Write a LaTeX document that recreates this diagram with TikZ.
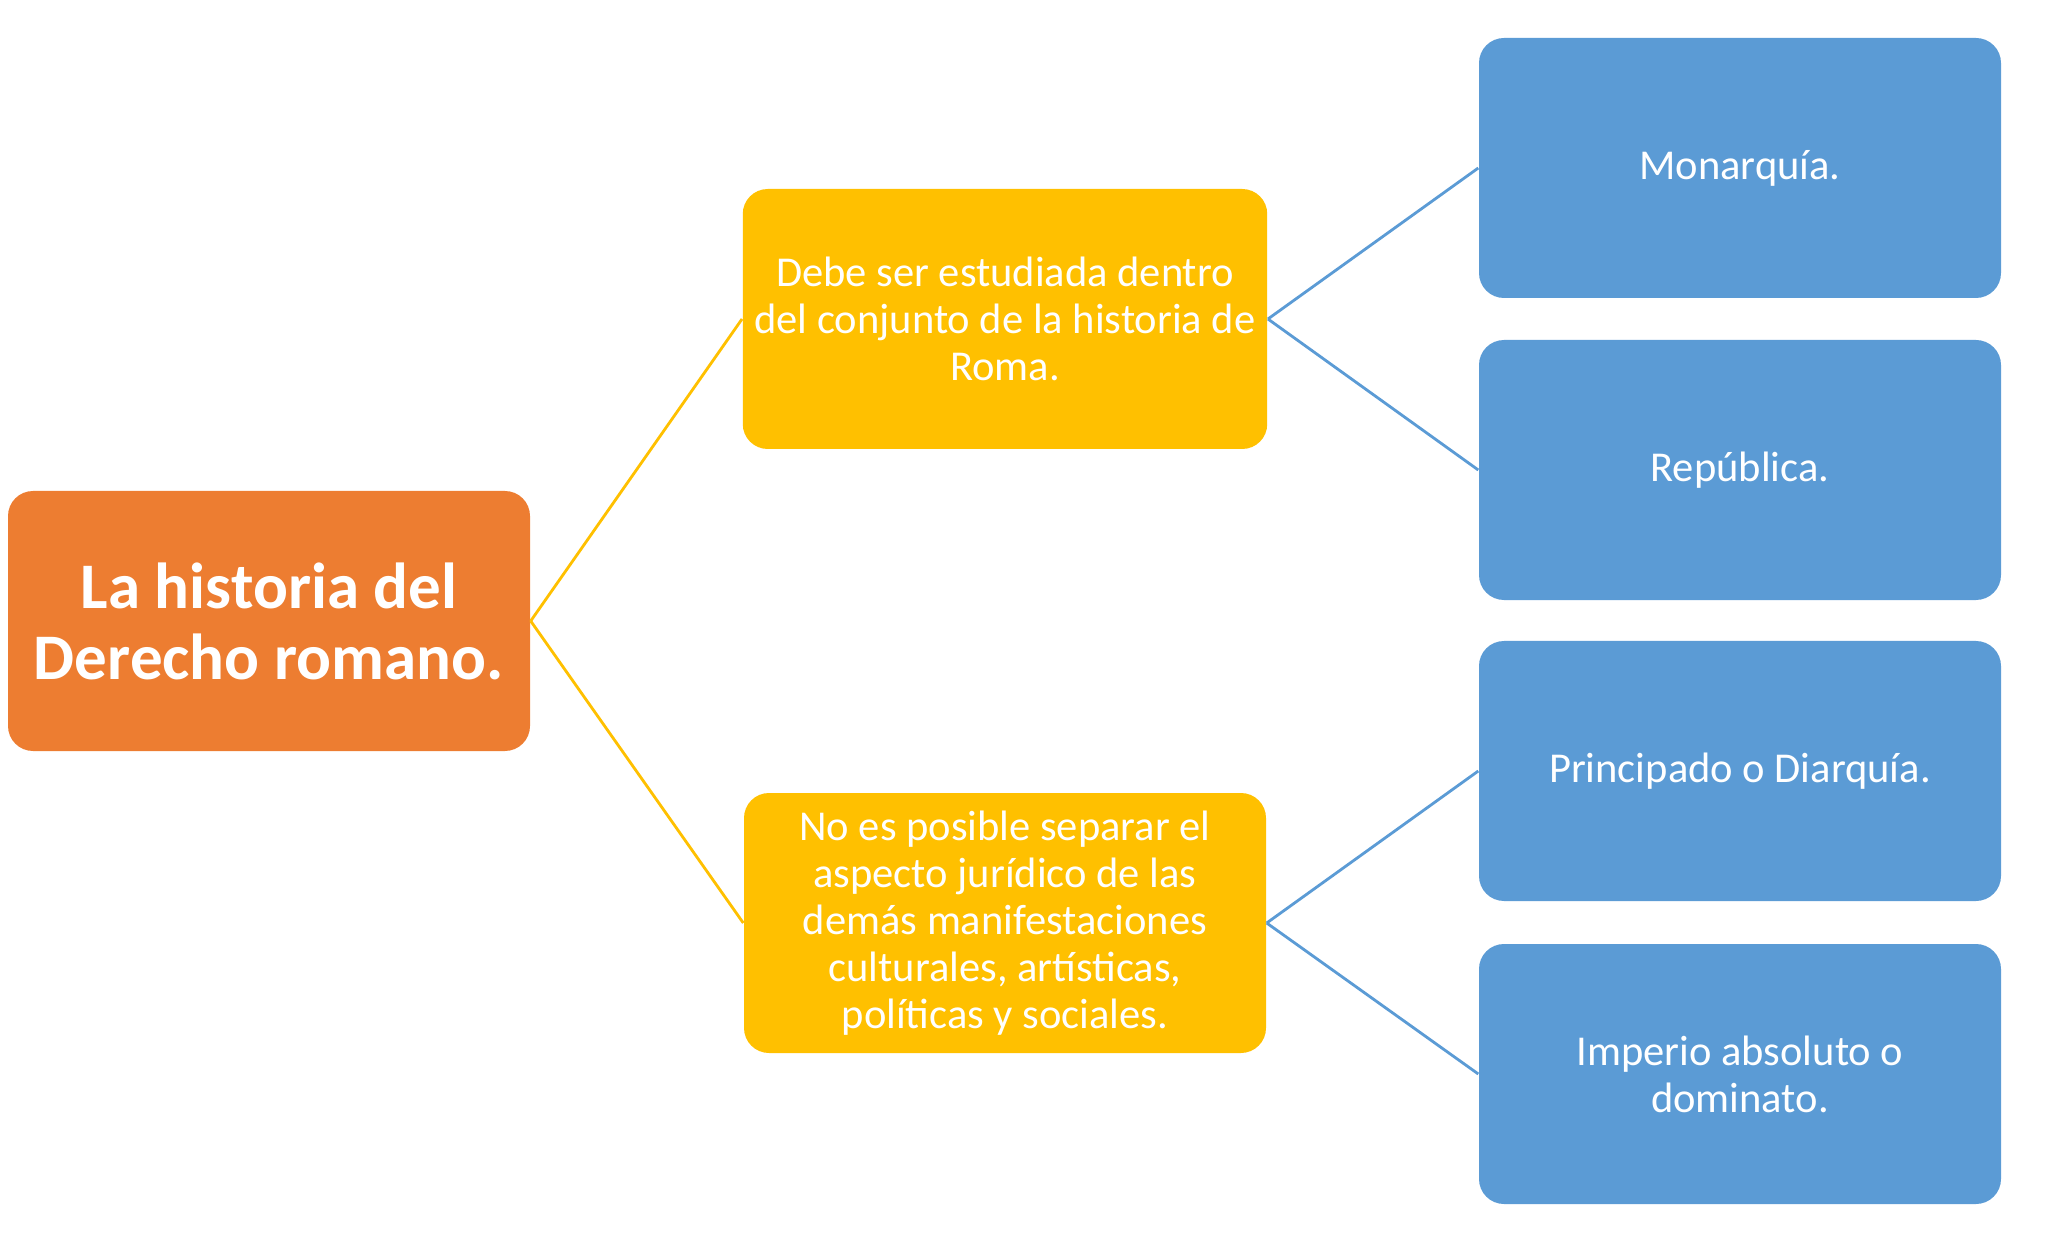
\documentclass[tikz,border=0pt]{standalone}
\usepackage{fontspec}
\setmainfont{Carlito}
\definecolor{rmorange}{RGB}{237,125,49}
\definecolor{rmyellow}{RGB}{255,192,0}
\definecolor{rmblue}{RGB}{91,155,213}
\usetikzlibrary{positioning}

\begin{document}
\begin{tikzpicture}[
  rootbox/.style={fill=rmorange, rounded corners=0.25cm, minimum width=5.22cm, minimum height=2.6cm, align=center, text=white, font=\fontsize{18.5}{20.2}\selectfont\bfseries},
  midbox/.style={fill=rmyellow, rounded corners=0.25cm, minimum width=5.22cm, minimum height=2.6cm, align=center, text=white, font=\fontsize{12.1}{13.4}\selectfont},
  leafbox/.style={fill=rmblue, rounded corners=0.25cm, minimum width=5.22cm, minimum height=2.6cm, align=center, text=white, font=\fontsize{12.1}{13.4}\selectfont}
]
  \useasboundingbox (0,0) rectangle (20.48,12.43);

  \node[rootbox] (hist) at (2.69,6.22) {La historia del\\Derecho romano.};

  \node[midbox] (roma) at (10.05,9.24) {Debe ser estudiada dentro\\del conjunto de la historia de\\Roma.};
  \node[midbox] (sep) at (10.05,3.20) {No es posible separar el\\aspecto jurídico de las\\demás manifestaciones\\culturales, artísticas,\\políticas y sociales.};

  \node[leafbox] (mon) at (17.40,10.75) {Monarquía.};
  \node[leafbox] (rep) at (17.40,7.73) {República.};
  \node[leafbox] (prin) at (17.40,4.72) {Principado o Diarquía.};
  \node[leafbox] (imp) at (17.40,1.69) {Imperio absoluto o\\dominato.};

  \draw[rmyellow, line width=0.8pt] (hist.east) -- (roma.west);
  \draw[rmyellow, line width=0.8pt] (hist.east) -- (sep.west);

  \draw[rmblue, line width=0.8pt] (roma.east) -- (mon.west);
  \draw[rmblue, line width=0.8pt] (roma.east) -- (rep.west);
  \draw[rmblue, line width=0.8pt] (sep.east) -- (prin.west);
  \draw[rmblue, line width=0.8pt] (sep.east) -- (imp.west);
\end{tikzpicture}
\end{document}
